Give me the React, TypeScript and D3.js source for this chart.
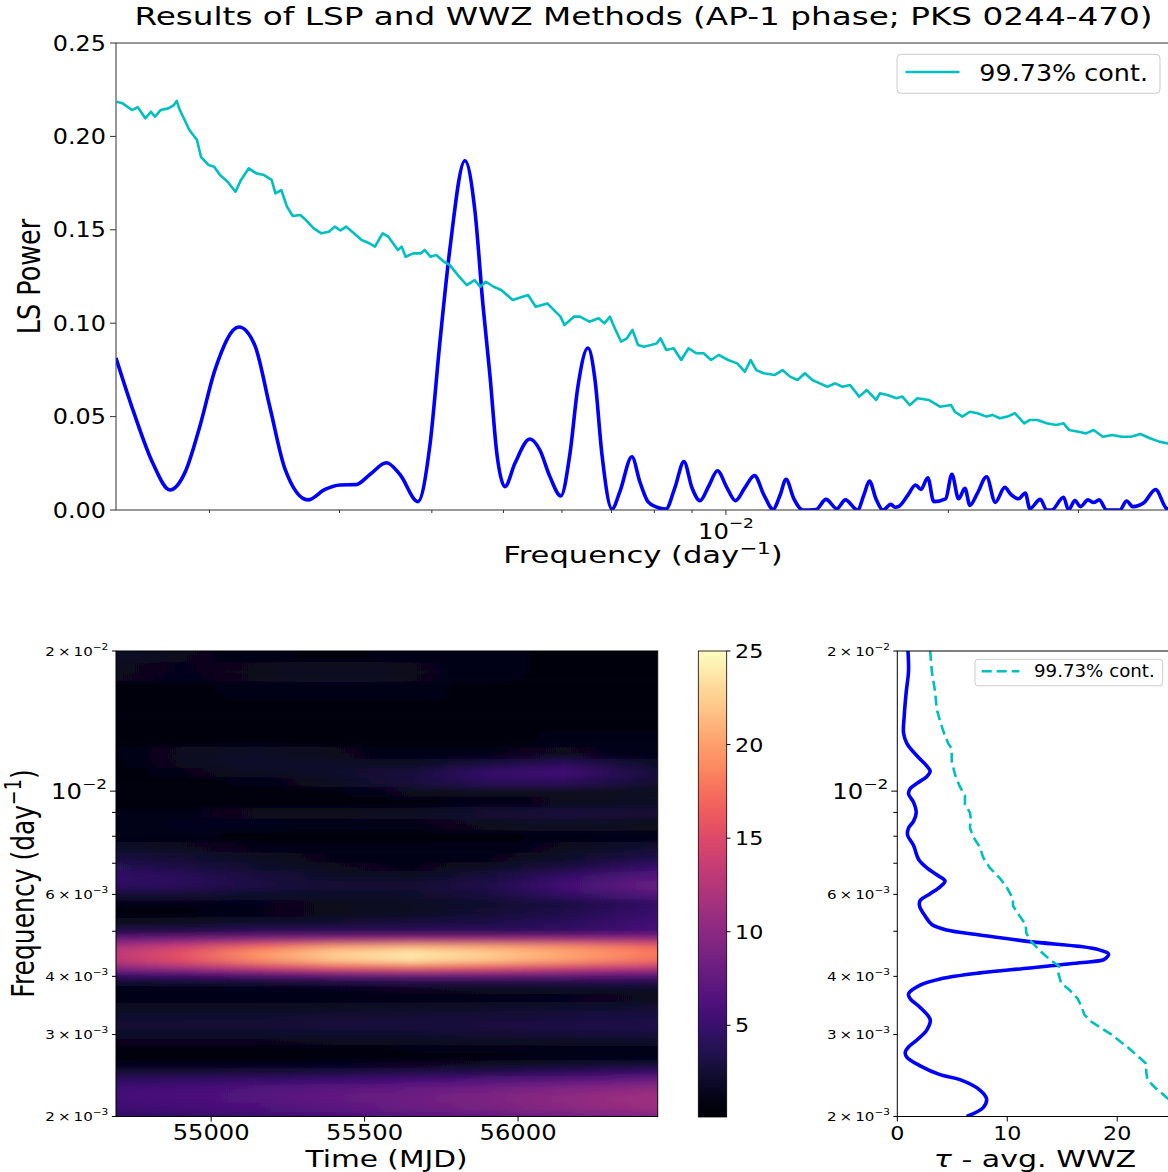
import React from 'react';
import * as d3 from 'd3';

const FONT = "'DejaVu Sans', sans-serif";
const BLUE = '#0000ff';
const CYAN = '#00bfbf';

// ---------- top panel: Lomb-Scargle periodogram (frequency in 1e-3 day^-1) ----------
const lspFreqMilli = [
  1.495, 1.581, 1.677, 1.769, 1.853, 1.942, 2.035, 2.193, 2.305, 2.415,
  2.531, 2.719, 2.867, 3.004, 3.157, 3.298, 3.472, 3.622, 3.83, 3.977,
  4.102, 4.232, 4.434, 4.575, 4.69, 4.794, 4.899, 5.023, 5.182, 5.43,
  5.602, 5.777, 5.98, 6.15, 6.305, 6.506, 6.649, 6.795, 7.011, 7.189,
  7.461, 7.649, 7.842, 8.064, 8.294, 8.531, 8.774, 8.995, 9.222, 9.484,
  9.741, 10.03, 10.3, 10.61, 10.93, 11.26, 11.58, 11.84, 12.06, 12.36,
  12.71, 13.24, 13.66, 14.13, 14.51, 15.07, 15.37, 15.64, 15.96, 16.31,
  16.72, 16.93, 17.14, 17.63, 18.06, 18.36, 18.76, 19.11, 19.83, 20.22,
  20.65, 21.06, 21.39, 21.89, 22.53, 23.15, 23.84, 24.3, 24.89, 25.42,
  25.78, 26.63, 27.17, 27.59, 28.64, 29.08, 29.67, 30.19, 30.9, 31.45,
  32.0, 32.76, 34.13, 34.85, 35.54, 36.81, 38.14, 39.49, 40.13,
];
const lspPower = [
  0.0814, 0.052, 0.025, 0.0107, 0.02, 0.045, 0.075, 0.098, 0.088, 0.055,
  0.022, 0.0054, 0.011, 0.0134, 0.0136, 0.019, 0.0253, 0.019, 0.0045, 0.035,
  0.09, 0.14, 0.187, 0.16, 0.11, 0.072, 0.03, 0.0125, 0.025, 0.038,
  0.032, 0.018, 0.0075, 0.03, 0.066, 0.0867, 0.07, 0.03, 0.0005, 0.01,
  0.0285, 0.015, 0.0045, 0.0015, 0.0005, 0.012, 0.0259, 0.012, 0.005, 0.013,
  0.021, 0.012, 0.005, 0.012, 0.0184, 0.008, 0.0004, 0.008, 0.0164, 0.006,
  0.0, 0.0003, 0.0057, 0.0007, 0.0054, 0.0, 0.008, 0.0155, 0.006, 0.0,
  0.003, 0.0015, 0.002, 0.008, 0.0134, 0.011, 0.0173, 0.0045, 0.006, 0.0191,
  0.006, 0.0116, 0.0025, 0.0089, 0.0178, 0.0041, 0.0121, 0.0084, 0.006, 0.0091,
  0.0007, 0.0057, 0.0, 0.0, 0.0068, 0.0, 0.005, 0.0018, 0.0054, 0.004,
  0.0054, 0.0, 0.0, 0.0048, 0.0018, 0.004, 0.011, 0.0007, 0.0,
];

// 99.73% confidence curve
const contFreqMilli = [
  1.498, 1.526, 1.571, 1.6, 1.638, 1.667, 1.688, 1.718, 1.76, 1.791,
  1.806, 1.824, 1.879, 1.924, 1.948, 1.994, 2.03, 2.067, 2.117, 2.169,
  2.207, 2.261, 2.315, 2.371, 2.428, 2.457, 2.502, 2.547, 2.593, 2.655,
  2.702, 2.768, 2.835, 2.902, 2.956, 3.009, 3.063, 3.138, 3.214, 3.291,
  3.35, 3.431, 3.493, 3.598, 3.641, 3.686, 3.775, 3.866, 3.912, 3.982,
  4.055, 4.154, 4.228, 4.355, 4.461, 4.569, 4.651, 4.733, 4.85, 4.965,
  5.087, 5.147, 5.398, 5.529, 5.731, 5.972, 6.046, 6.228, 6.345, 6.535,
  6.726, 6.848, 6.967, 7.09, 7.215, 7.345, 7.474, 7.606, 7.74, 7.922,
  8.064, 8.158, 8.302, 8.497, 8.7, 8.903, 9.114, 9.329, 9.55, 9.775,
  10.07, 10.36, 10.61, 10.8, 10.99, 11.25, 11.65, 11.93, 12.21, 12.5,
  12.79, 13.09, 13.4, 13.72, 14.05, 14.38, 14.72, 15.15, 15.51, 15.97,
  16.16, 16.54, 17.02, 17.33, 17.74, 18.16, 18.81, 19.48, 20.17, 20.41,
  20.89, 21.39, 21.89, 22.53, 22.94, 23.48, 24.04, 24.61, 25.33, 25.78,
  26.39, 27.17, 27.98, 28.64, 29.14, 30.01, 30.72, 31.45, 32.36, 33.33,
  34.32, 35.34, 36.39, 37.48, 38.58, 39.49, 40.13,
];
const contPower = [
  0.2186, 0.2177, 0.2141, 0.2156, 0.2097, 0.2132, 0.2105, 0.2141, 0.215, 0.2168,
  0.219, 0.2141, 0.2034, 0.1981, 0.1891, 0.1847, 0.1838, 0.1793, 0.1757, 0.1704,
  0.1767, 0.1829, 0.1802, 0.1793, 0.1767, 0.1695, 0.1713, 0.1624, 0.1574, 0.1579,
  0.1552, 0.1508, 0.1481, 0.149, 0.1517, 0.1496, 0.1517, 0.1481, 0.1445, 0.1428,
  0.141, 0.1481, 0.1463, 0.1392, 0.141, 0.1356, 0.1374, 0.1374, 0.1392, 0.1356,
  0.1365, 0.1329, 0.1312, 0.1249, 0.1204, 0.1231, 0.1195, 0.1222, 0.1195, 0.1178,
  0.1142, 0.1124, 0.1151, 0.1088, 0.1106, 0.1035, 0.099, 0.1035, 0.1035, 0.1008,
  0.1026, 0.0999, 0.1035, 0.0964, 0.0901, 0.0919, 0.0964, 0.0883, 0.0874, 0.0883,
  0.0892, 0.0919, 0.0857, 0.0866, 0.0803, 0.0866, 0.0839, 0.0839, 0.0803, 0.083,
  0.0803, 0.0785, 0.074, 0.0803, 0.0749, 0.0732, 0.0723, 0.0749, 0.0714, 0.0696,
  0.0732, 0.0696, 0.0678, 0.066, 0.0678, 0.066, 0.0669, 0.0607, 0.0642, 0.0589,
  0.0625, 0.0616, 0.0598, 0.0607, 0.0562, 0.0598, 0.0589, 0.0553, 0.0562, 0.0526,
  0.05, 0.0526, 0.0518, 0.05, 0.0509, 0.0491, 0.05, 0.0518, 0.0464, 0.0482,
  0.0482, 0.0464, 0.0455, 0.0464, 0.0428, 0.0419, 0.041, 0.0428, 0.0392, 0.0401,
  0.0392, 0.0392, 0.0407, 0.0384, 0.0366, 0.0357, 0.0352,
];

const topYTicks = [0, 0.05, 0.1, 0.15, 0.2, 0.25];
const topYLabels = ['0.00', '0.05', '0.10', '0.15', '0.20', '0.25'];
const topXMinor = [2e-3, 3e-3, 4e-3, 5e-3, 6e-3, 7e-3, 8e-3, 9e-3, 2e-2, 3e-2];

// ---------- bottom-left: WWZ map ----------
const mapTimes = [54690, 54900, 55150, 55400, 55650, 55900, 56150, 56455];
const mapFreqMilli = [
  2.0, 2.1, 2.2, 2.3, 2.4, 2.5, 2.6, 2.7, 2.8, 2.9, 3.0, 3.15, 3.3, 3.45, 3.6, 3.75,
  3.9, 4.05, 4.2, 4.35, 4.5, 4.65, 4.8, 5.0, 5.25, 5.5, 5.75, 6.0, 6.3, 6.6, 6.9,
  7.2, 7.6, 8.0, 8.5, 9.0, 9.5, 10.0, 10.5, 11.0, 11.5, 12.0, 13.0, 14.0, 15.0,
  16.5, 18.0, 20.0,
];
const mapValues = [
  [4.2, 4.5, 5.0, 5.8, 6.5, 7.3, 8.3, 9.3],
  [5.2, 5.6, 6.2, 7.0, 7.9, 8.8, 9.9, 11.0],
  [5.6, 6.0, 6.6, 7.4, 8.2, 9.1, 10.2, 11.3],
  [5.5, 5.8, 6.3, 7.0, 7.6, 8.4, 9.3, 10.3],
  [4.3, 4.5, 4.8, 5.2, 5.7, 6.3, 7.0, 8.0],
  [2.5, 2.5, 2.7, 2.9, 3.2, 3.5, 4.0, 4.8],
  [1.2, 1.2, 1.2, 1.3, 1.4, 1.6, 1.9, 2.3],
  [0.7, 0.7, 0.7, 0.7, 0.8, 0.8, 0.9, 1.0],
  [0.8, 0.8, 0.8, 0.8, 0.9, 0.9, 1.0, 1.2],
  [1.4, 1.4, 1.4, 1.5, 1.6, 1.7, 1.8, 2.0],
  [2.0, 2.0, 2.1, 2.2, 2.3, 2.4, 2.6, 2.8],
  [2.5, 2.5, 2.6, 2.8, 2.9, 3.1, 3.3, 3.5],
  [2.2, 2.2, 2.3, 2.4, 2.5, 2.6, 2.8, 3.0],
  [1.6, 1.6, 1.7, 1.8, 1.9, 2.0, 2.2, 2.4],
  [1.0, 0.9, 0.9, 1.0, 1.1, 1.2, 1.3, 1.5],
  [1.0, 0.9, 1.0, 1.2, 1.4, 1.5, 1.6, 1.8],
  [2.0, 2.0, 2.3, 2.8, 3.2, 3.2, 3.2, 3.5],
  [5.0, 5.5, 6.5, 7.5, 8.0, 8.0, 7.5, 7.0],
  [10.0, 11.5, 14.0, 16.0, 17.0, 16.0, 14.5, 13.0],
  [13.0, 15.5, 19.0, 22.0, 23.5, 22.0, 20.0, 17.5],
  [13.0, 15.5, 19.5, 22.5, 24.0, 22.5, 20.5, 18.0],
  [12.0, 14.0, 17.0, 19.5, 20.5, 20.0, 19.0, 17.0],
  [8.0, 9.0, 10.0, 10.5, 11.0, 11.0, 11.0, 11.0],
  [3.5, 3.5, 4.0, 4.0, 4.0, 4.0, 4.5, 6.0],
  [1.5, 1.6, 2.0, 2.3, 2.8, 3.3, 4.0, 5.5],
  [0.6, 0.8, 1.2, 1.5, 1.8, 2.5, 3.5, 5.0],
  [1.0, 1.2, 1.3, 1.5, 1.8, 2.2, 3.0, 4.5],
  [2.5, 2.5, 2.2, 2.0, 2.2, 3.0, 4.5, 6.5],
  [4.2, 4.0, 3.2, 2.5, 2.5, 3.5, 5.5, 8.0],
  [4.5, 4.0, 3.0, 2.0, 1.8, 2.8, 4.5, 6.5],
  [3.8, 3.2, 2.2, 1.5, 1.2, 1.8, 3.0, 5.0],
  [3.0, 2.5, 1.8, 1.2, 1.0, 1.2, 2.0, 3.5],
  [2.0, 1.6, 1.2, 1.0, 1.0, 1.0, 1.5, 2.5],
  [1.2, 1.0, 0.8, 0.7, 0.7, 0.8, 1.0, 1.2],
  [1.2, 1.3, 1.3, 1.2, 1.2, 1.5, 1.8, 1.5],
  [1.0, 1.2, 1.5, 1.5, 1.8, 2.5, 2.8, 2.5],
  [0.5, 0.5, 0.4, 0.5, 0.8, 1.0, 1.5, 2.0],
  [0.4, 0.4, 0.5, 0.8, 1.5, 1.5, 1.5, 1.5],
  [0.5, 0.7, 1.0, 1.8, 3.0, 4.0, 4.0, 2.5],
  [0.6, 1.2, 1.8, 2.2, 2.8, 4.8, 5.5, 2.8],
  [0.8, 1.6, 2.2, 2.0, 1.8, 3.0, 4.0, 2.0],
  [1.0, 1.6, 2.0, 1.5, 1.0, 1.2, 1.5, 1.0],
  [0.6, 0.6, 0.6, 0.5, 0.5, 0.7, 1.0, 1.0],
  [0.5, 0.4, 0.5, 0.5, 0.6, 0.7, 0.8, 0.8],
  [0.5, 0.5, 0.6, 0.7, 0.8, 0.8, 0.7, 0.6],
  [0.8, 0.8, 1.0, 1.2, 1.0, 0.8, 0.6, 0.5],
  [1.5, 1.3, 1.5, 1.8, 1.5, 1.0, 0.8, 0.6],
  [2.0, 1.5, 1.0, 0.8, 1.0, 1.0, 0.8, 0.7],
];
const mapXTicks = [55000, 55500, 56000];
const cbTicks = [5, 10, 15, 20, 25];

// ---------- bottom-right: time-averaged WWZ ----------
const avgFreqMilli = [
  20.0, 18.09, 16.33, 14.5, 13.31, 12.65, 11.91, 11.32, 11.03, 10.75,
  10.39, 10.13, 9.87, 9.46, 8.99, 8.62, 8.33, 8.05, 7.64, 7.14,
  6.84, 6.61, 6.41, 6.23, 6.02, 5.82, 5.67, 5.39, 5.17, 5.03,
  4.91, 4.75, 4.64, 4.56, 4.47, 4.35, 4.28, 4.17, 4.07, 3.95,
  3.83, 3.67, 3.58, 3.43, 3.23, 3.07, 2.92, 2.82, 2.75, 2.68,
  2.57, 2.46, 2.4, 2.28, 2.18, 2.09, 2.0,
];
const avgWwz = [
  0.97, 1.02, 0.81, 0.63, 0.57, 0.88, 1.78, 2.69, 2.99, 2.69,
  1.78, 1.18, 1.02, 1.48, 1.72, 1.48, 1.02, 0.93, 1.48, 1.93,
  2.69, 3.59, 4.34, 3.89, 2.99, 2.08, 2.02, 2.53, 3.14, 4.5,
  7.51, 12.04, 16.56, 18.37, 19.21, 18.82, 16.56, 12.04, 7.51, 3.89,
  2.08, 1.02, 1.18, 2.08, 2.99, 2.69, 1.78, 1.02, 0.72, 0.88,
  2.08, 3.89, 5.7, 7.51, 8.12, 7.81, 6.31,
];
const contWwzFreqMilli = [
  20.0, 18.09, 16.33, 14.99, 14.13, 13.31, 12.65, 12.33, 11.61, 10.85,
  10.21, 9.79, 9.38, 8.99, 8.76, 8.33, 7.98, 7.58, 7.2, 6.84,
  6.5, 6.23, 5.87, 5.67, 5.39, 5.17, 4.95, 4.75, 4.55, 4.35,
  4.21, 4.1, 3.87, 3.74, 3.58, 3.46, 3.31, 3.2, 3.1, 2.99,
  2.89, 2.8, 2.68, 2.6, 2.48, 2.4, 2.3, 2.2, 2.1,
];
const contWwz = [
  2.99, 3.14, 3.44, 3.59, 3.89, 4.25, 4.64, 4.95, 4.95, 5.25,
  5.7, 6.15, 6.15, 6.61, 6.67, 6.61, 6.9, 7.51, 7.81, 8.42,
  9.32, 9.93, 10.52, 10.52, 11.13, 11.67, 11.74, 12.19, 12.94, 13.85,
  14.69, 14.6, 14.9, 15.66, 16.41, 16.71, 17.01, 17.62, 18.52, 19.57,
  20.33, 21.09, 21.99, 22.6, 22.65, 22.74, 23.5, 24.46, 25.6,
];
const sideXTicks = [0, 10, 20];

// shared frequency axis ticks for the bottom panels
const freqTickVals = [2e-2, 1e-2, 6e-3, 4e-3, 3e-3, 2e-3];
const freqTickMant = ['2', '', '6', '4', '3', '2'];
const freqTickExp = ['\u22122', '\u22122', '\u22123', '\u22123', '\u22123', '\u22123'];
const freqMinor = [2e-3, 3e-3, 4e-3, 5e-3, 6e-3, 7e-3, 8e-3, 9e-3, 2e-2];

const Txt = ({ x, y, size, sx = 1, anchor = 'start', rot = false, children }: any) => (
  <text
    transform={rot ? `translate(${x},${y}) rotate(-90) scale(1,${sx})` : `translate(${x},${y}) scale(${sx},1)`}
    fontSize={size}
    textAnchor={anchor}
    fontFamily={FONT}
    fill="#000"
  >
    {children}
  </text>
);

// log tick label like 10^-2 or 2x10^-3
const PowLabel = ({ x, y, size, sx, anchor = 'end', mant, exp }: any) => (
  <Txt x={x} y={y} size={size} sx={sx} anchor={anchor}>
    {mant ? `${mant}\u2009\u00d7\u200910` : '10'}
    <tspan fontSize={size * 0.7} dy={-size * 0.48}>{exp}</tspan>
  </Txt>
);

export default function App() {
  const topX = d3.scaleLog().domain([1.495e-3, 0.0399]).range([116, 1170]);
  const topY = d3.scaleLinear().domain([0, 0.25]).range([510, 43]);

  const mapX = d3.scaleLinear().domain([54690, 56455]).range([116, 657.7]);
  const mapY = d3.scaleLog().domain([2e-3, 2e-2]).range([1116.5, 651]);
  const color = d3.scaleSequential(d3.interpolateMagma).domain([0.1, 25]);
  const cbY = d3.scaleLinear().domain([0.1, 25]).range([1117, 651]);
  const sideX = d3.scaleLinear().domain([0, 24.8]).range([897.3, 1170]);

  const lspPath = d3.line<number>()
    .x((_, i) => topX(lspFreqMilli[i] / 1000))
    .y(d => topY(d))
    .curve(d3.curveMonotoneX)(lspPower);
  const contPath = d3.line<number>()
    .x((_, i) => topX(contFreqMilli[i] / 1000))
    .y(d => topY(d))(contPower);

  const avgPath = d3.line<number>()
    .x(d => sideX(d))
    .y((_, i) => mapY(avgFreqMilli[i] / 1000))
    .curve(d3.curveCatmullRom.alpha(0.5))(avgWwz);
  const contWwzPath = d3.line<number>()
    .x(d => sideX(d))
    .y((_, i) => mapY(contWwzFreqMilli[i] / 1000))(contWwz);

  // heatmap rows: each frequency row is a horizontal gradient across the time columns
  const nRow = mapFreqMilli.length;
  const x0 = mapX(mapTimes[0]);
  const x1 = mapX(mapTimes[mapTimes.length - 1]);
  const rows = mapFreqMilli.map((fm, i) => {
    const yc = mapY(fm / 1000);
    const yUp = i < nRow - 1 ? (yc + mapY(mapFreqMilli[i + 1] / 1000)) / 2 : yc - 25;
    const yDown = i > 0 ? (yc + mapY(mapFreqMilli[i - 1] / 1000)) / 2 : yc + 25;
    return { i, y: yUp, h: yDown - yUp + 0.6 };
  });

  const cbStops = d3.range(0, 1.0001, 0.025);

  const axisStroke = '#333';

  return (
    <div style={{ position: 'absolute', left: 0, top: 0 }}>
      <svg width={1168} height={1172} viewBox="0 0 1168 1172" style={{ display: 'block', background: '#fff' }}>
        <defs>
          <clipPath id="topClip">
            <rect x={116} y={43} width={1054} height={467} />
          </clipPath>
          <clipPath id="mapClip">
            <rect x={116} y={651} width={541.7} height={465.5} />
          </clipPath>
          <clipPath id="sideClip">
            <rect x={897.3} y={651} width={273} height={465.5} />
          </clipPath>
          <filter id="vblur" filterUnits="userSpaceOnUse" x={100} y={600} width={580} height={570}>
            <feGaussianBlur stdDeviation="0.01 3.5" />
          </filter>
          {rows.map(r => (
            <linearGradient key={r.i} id={`row${r.i}`} gradientUnits="userSpaceOnUse" x1={x0} x2={x1} y1={0} y2={0}>
              {mapTimes.map((t, j) => (
                <stop key={j} offset={(mapX(t) - x0) / (x1 - x0)} stopColor={color(mapValues[r.i][j])} />
              ))}
            </linearGradient>
          ))}
          <linearGradient id="cbGrad" x1={0} y1={1} x2={0} y2={0}>
            {cbStops.map((t, k) => (
              <stop key={k} offset={t} stopColor={d3.interpolateMagma(t)} />
            ))}
          </linearGradient>
        </defs>

        {/* title */}
        <Txt x={643.5} y={25} size={25} sx={1.308} anchor="middle">
          Results of LSP and WWZ Methods (AP-1 phase; PKS 0244-470)
        </Txt>

        {/* ===== top panel ===== */}
        <g clipPath="url(#topClip)">
          <path d={lspPath || ''} fill="none" stroke={BLUE} strokeWidth={3.6} strokeLinejoin="round" />
          <path d={contPath || ''} fill="none" stroke={CYAN} strokeWidth={2.6} strokeLinejoin="round" />
        </g>
        <rect x={116} y={43} width={1054} height={467} fill="none" stroke={axisStroke} strokeWidth={1} />
        {topYTicks.map((t, i) => (
          <g key={t}>
            <line x1={110} x2={116} y1={topY(t)} y2={topY(t)} stroke={axisStroke} />
            <Txt x={106} y={topY(t) + 7.6} size={20.6} sx={1.16} anchor="end">{topYLabels[i]}</Txt>
          </g>
        ))}
        {topXMinor.map(t => (
          <line key={t} x1={topX(t)} x2={topX(t)} y1={510} y2={513} stroke={axisStroke} />
        ))}
        <line x1={topX(1e-2)} x2={topX(1e-2)} y1={510} y2={515} stroke={axisStroke} />
        <PowLabel x={topX(1e-2)} y={538.5} size={21} sx={1.157} anchor="middle" mant="" exp={'\u22122'} />
        <Txt x={643} y={563} size={23} sx={1.33} anchor="middle">
          Frequency (day
          <tspan fontSize={23 * 0.7} dy={-23 * 0.4}>{'\u22121'}</tspan>
          <tspan dy={23 * 0.4}>)</tspan>
        </Txt>
        <Txt x={40} y={276.5} size={25.5} sx={1.23} anchor="middle" rot>LS Power</Txt>

        {/* top legend */}
        <rect x={897} y={54.3} width={263} height={39} rx={4} fill="#fff" fillOpacity={0.8} stroke="#cccccc" strokeWidth={1} />
        <line x1={905.5} x2={959.5} y1={72} y2={72} stroke={CYAN} strokeWidth={2.6} />
        <Txt x={979.3} y={81} size={22.5} sx={1.13}>99.73% cont.</Txt>

        {/* ===== bottom-left: WWZ map ===== */}
        <g clipPath="url(#mapClip)">
          <g filter="url(#vblur)">
            {rows.map(r => (
              <rect key={r.i} x={x0} y={r.y} width={x1 - x0} height={r.h} fill={`url(#row${r.i})`} />
            ))}
          </g>
        </g>
        <rect x={116} y={651} width={541.7} height={465.5} fill="none" stroke="#000" strokeWidth={1} />
        {mapXTicks.map(t => (
          <g key={t}>
            <line x1={mapX(t)} x2={mapX(t)} y1={1116.5} y2={1121.5} stroke="#000" />
            <Txt x={mapX(t)} y={1139.5} size={21.5} sx={1.126} anchor="middle">{t}</Txt>
          </g>
        ))}
        <Txt x={386.5} y={1167} size={23.5} sx={1.26} anchor="middle">Time (MJD)</Txt>
        {freqMinor.map(f => (
          <line key={f} x1={112} x2={116} y1={mapY(f)} y2={mapY(f)} stroke="#000" />
        ))}
        <line x1={110} x2={116} y1={mapY(1e-2)} y2={mapY(1e-2)} stroke="#000" />
        {freqTickVals.map((f, i) =>
          freqTickMant[i] ? (
            <PowLabel key={f} x={108.3} y={mapY(f) + 4.7} size={12.8} sx={1.18} mant={freqTickMant[i]} exp={freqTickExp[i]} />
          ) : (
            <PowLabel key={f} x={107} y={mapY(f) + 7.5} size={20.6} sx={1.18} mant="" exp={freqTickExp[i]} />
          )
        )}
        <Txt x={34} y={883.5} size={25} sx={1.27} anchor="middle" rot>
          Frequency (day
          <tspan fontSize={25 * 0.7} dy={-25 * 0.42}>{'\u22121'}</tspan>
          <tspan dy={25 * 0.42}>)</tspan>
        </Txt>

        {/* colorbar */}
        <rect x={698.3} y={651} width={28.4} height={466} fill="url(#cbGrad)" stroke="#000" strokeWidth={0.8} />
        {cbTicks.map(t => (
          <g key={t}>
            <line x1={726.7} x2={730.5} y1={cbY(t)} y2={cbY(t)} stroke="#000" />
            <Txt x={735} y={cbY(t) + 7} size={19} sx={1.17}>{t}</Txt>
          </g>
        ))}

        {/* ===== bottom-right: averaged WWZ ===== */}
        <g clipPath="url(#sideClip)">
          <path d={avgPath || ''} fill="none" stroke={BLUE} strokeWidth={3.6} strokeLinejoin="round" />
          <path d={contWwzPath || ''} fill="none" stroke={CYAN} strokeWidth={2.6} strokeDasharray="10 5" />
        </g>
        <rect x={897.3} y={651} width={273} height={465.5} fill="none" stroke="#000" strokeWidth={1} />
        {sideXTicks.map(t => (
          <g key={t}>
            <line x1={sideX(t)} x2={sideX(t)} y1={1116.5} y2={1121.5} stroke="#000" />
            <Txt x={sideX(t)} y={1139.5} size={19} sx={1.17} anchor="middle">{t}</Txt>
          </g>
        ))}
        <Txt x={1035} y={1167} size={23.3} sx={1.29} anchor="middle">
          <tspan fontStyle="italic">{'\u03c4'}</tspan> - avg. WWZ
        </Txt>
        {freqMinor.map(f => (
          <line key={f} x1={893.3} x2={897.3} y1={mapY(f)} y2={mapY(f)} stroke="#000" />
        ))}
        <line x1={891.3} x2={897.3} y1={mapY(1e-2)} y2={mapY(1e-2)} stroke="#000" />
        {freqTickVals.map((f, i) =>
          freqTickMant[i] ? (
            <PowLabel key={f} x={890} y={mapY(f) + 4.7} size={12.8} sx={1.18} mant={freqTickMant[i]} exp={freqTickExp[i]} />
          ) : (
            <PowLabel key={f} x={888.3} y={mapY(f) + 7.5} size={20.6} sx={1.18} mant="" exp={freqTickExp[i]} />
          )
        )}

        {/* side legend */}
        <rect x={975} y={659.3} width={187.7} height={26.5} rx={3} fill="#fff" fillOpacity={0.8} stroke="#cccccc" strokeWidth={1} />
        <line x1={981.7} x2={1019.3} y1={671.3} y2={671.3} stroke={CYAN} strokeWidth={2.6} strokeDasharray="10 5" />
        <Txt x={1034} y={677.2} size={17.5} sx={1.04}>99.73% cont.</Txt>
      </svg>
    </div>
  );
}
